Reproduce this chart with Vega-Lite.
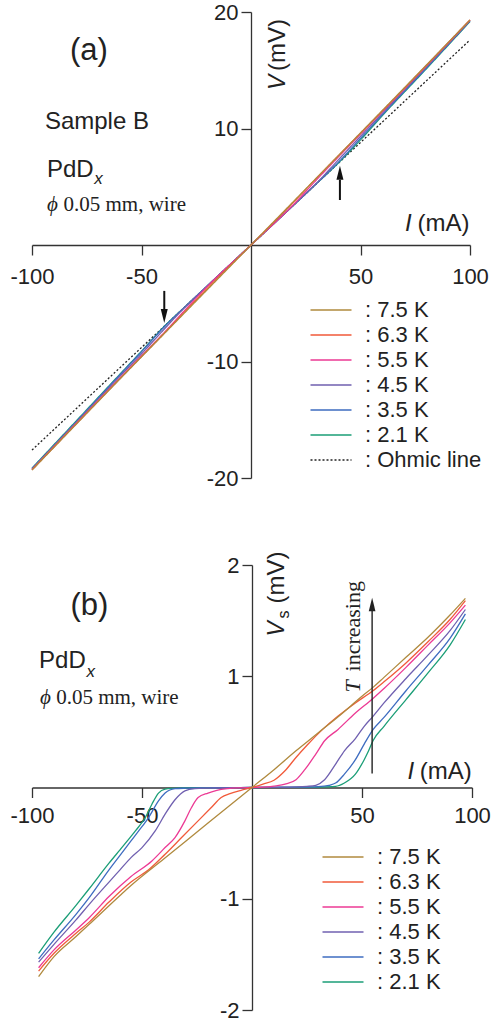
{
"$schema": "https://vega.github.io/schema/vega-lite/v6.json",
"background": "white",
"padding": {"left": 9, "top": 1, "right": 0, "bottom": 0},
"spacing": 62,
"config": {
  "view": {"stroke": null},
  "font": "Liberation Sans",
  "axis": {"grid": false, "title": null, "domainColor": "#333", "tickColor": "#333", "domainWidth": 1.3, "tickWidth": 1.3, "tickSize": 10, "labelFontSize": 22, "labelFont": "Liberation Sans", "labelColor": "#222", "labelOverlap": false, "labelFlush": false},
  "text": {"color": "#222"}
},
"resolve": {"scale": {"x": "independent", "y": "independent", "color": "independent", "strokeDash": "independent"}, "legend": {"color": "independent", "strokeDash": "independent"}},
"datasets": {
  "ivA": [
    {"T":"Ohmic line","I":-100,"V":-17.6},{"T":"Ohmic line","I":100,"V":17.6},
    {"T":"2.1 K","I":-100,"V":-19.15},{"T":"2.1 K","I":-80,"V":-15.14},{"T":"2.1 K","I":-60,"V":-11.12},{"T":"2.1 K","I":-50,"V":-9.12},{"T":"2.1 K","I":-40,"V":-7.06},{"T":"2.1 K","I":-30,"V":-5.28},{"T":"2.1 K","I":-20,"V":-3.52},{"T":"2.1 K","I":0,"V":0},{"T":"2.1 K","I":20,"V":3.52},{"T":"2.1 K","I":30,"V":5.284},{"T":"2.1 K","I":40,"V":7.06},{"T":"2.1 K","I":50,"V":9.02},{"T":"2.1 K","I":60,"V":11.11},{"T":"2.1 K","I":80,"V":15.11},{"T":"2.1 K","I":100,"V":19.18},
    {"T":"3.5 K","I":-100,"V":-19.2},{"T":"3.5 K","I":-80,"V":-15.22},{"T":"3.5 K","I":-60,"V":-11.17},{"T":"3.5 K","I":-50,"V":-9.16},{"T":"3.5 K","I":-40,"V":-7.1},{"T":"3.5 K","I":-30,"V":-5.29},{"T":"3.5 K","I":-20,"V":-3.52},{"T":"3.5 K","I":0,"V":0},{"T":"3.5 K","I":20,"V":3.52},{"T":"3.5 K","I":30,"V":5.29},{"T":"3.5 K","I":40,"V":7.12},{"T":"3.5 K","I":50,"V":9.15},{"T":"3.5 K","I":60,"V":11.19},{"T":"3.5 K","I":80,"V":15.18},{"T":"3.5 K","I":100,"V":19.23},
    {"T":"4.5 K","I":-100,"V":-19.23},{"T":"4.5 K","I":-80,"V":-15.27},{"T":"4.5 K","I":-60,"V":-11.3},{"T":"4.5 K","I":-50,"V":-9.34},{"T":"4.5 K","I":-40,"V":-7.3},{"T":"4.5 K","I":-30,"V":-5.31},{"T":"4.5 K","I":-20,"V":-3.525},{"T":"4.5 K","I":0,"V":0},{"T":"4.5 K","I":20,"V":3.525},{"T":"4.5 K","I":30,"V":5.32},{"T":"4.5 K","I":40,"V":7.33},{"T":"4.5 K","I":50,"V":9.33},{"T":"4.5 K","I":60,"V":11.32},{"T":"4.5 K","I":80,"V":15.27},{"T":"4.5 K","I":100,"V":19.27},
    {"T":"5.5 K","I":-100,"V":-19.28},{"T":"5.5 K","I":-80,"V":-15.36},{"T":"5.5 K","I":-60,"V":-11.45},{"T":"5.5 K","I":-50,"V":-9.51},{"T":"5.5 K","I":-40,"V":-7.59},{"T":"5.5 K","I":-30,"V":-5.56},{"T":"5.5 K","I":-20,"V":-3.57},{"T":"5.5 K","I":0,"V":0},{"T":"5.5 K","I":20,"V":3.59},{"T":"5.5 K","I":30,"V":5.61},{"T":"5.5 K","I":40,"V":7.58},{"T":"5.5 K","I":50,"V":9.52},{"T":"5.5 K","I":60,"V":11.45},{"T":"5.5 K","I":80,"V":15.36},{"T":"5.5 K","I":100,"V":19.3},
    {"T":"6.3 K","I":-100,"V":-19.3},{"T":"6.3 K","I":-80,"V":-15.39},{"T":"6.3 K","I":-60,"V":-11.5},{"T":"6.3 K","I":-50,"V":-9.58},{"T":"6.3 K","I":-40,"V":-7.65},{"T":"6.3 K","I":-30,"V":-5.69},{"T":"6.3 K","I":-20,"V":-3.73},{"T":"6.3 K","I":0,"V":0},{"T":"6.3 K","I":20,"V":3.79},{"T":"6.3 K","I":30,"V":5.76},{"T":"6.3 K","I":40,"V":7.69},{"T":"6.3 K","I":50,"V":9.6},{"T":"6.3 K","I":60,"V":11.51},{"T":"6.3 K","I":80,"V":15.39},{"T":"6.3 K","I":100,"V":19.32},
    {"T":"7.5 K","I":-100,"V":-19.32},{"T":"7.5 K","I":-80,"V":-15.42},{"T":"7.5 K","I":-60,"V":-11.53},{"T":"7.5 K","I":-50,"V":-9.6},{"T":"7.5 K","I":-40,"V":-7.68},{"T":"7.5 K","I":-30,"V":-5.76},{"T":"7.5 K","I":-20,"V":-3.84},{"T":"7.5 K","I":0,"V":0},{"T":"7.5 K","I":20,"V":3.85},{"T":"7.5 K","I":30,"V":5.77},{"T":"7.5 K","I":40,"V":7.69},{"T":"7.5 K","I":50,"V":9.62},{"T":"7.5 K","I":60,"V":11.55},{"T":"7.5 K","I":80,"V":15.43},{"T":"7.5 K","I":100,"V":19.32}
  ],
  "vsB": [
    {"T":"2.1 K","I":-97,"Vs":-1.49},{"T":"2.1 K","I":-90,"Vs":-1.30},{"T":"2.1 K","I":-80,"Vs":-1.06},{"T":"2.1 K","I":-74,"Vs":-0.91},{"T":"2.1 K","I":-65,"Vs":-0.68},{"T":"2.1 K","I":-60,"Vs":-0.56},{"T":"2.1 K","I":-55,"Vs":-0.44},{"T":"2.1 K","I":-53,"Vs":-0.39},{"T":"2.1 K","I":-48.5,"Vs":-0.27},{"T":"2.1 K","I":-45.5,"Vs":-0.15},{"T":"2.1 K","I":-42.5,"Vs":-0.05},{"T":"2.1 K","I":-39.5,"Vs":-0.015},{"T":"2.1 K","I":-36,"Vs":-0.008},{"T":"2.1 K","I":-30,"Vs":-0.004},{"T":"2.1 K","I":-20,"Vs":-0.002},{"T":"2.1 K","I":-10,"Vs":-0.001},{"T":"2.1 K","I":0,"Vs":0},{"T":"2.1 K","I":10,"Vs":0.001},{"T":"2.1 K","I":20,"Vs":0.002},{"T":"2.1 K","I":30,"Vs":0.004},{"T":"2.1 K","I":38,"Vs":0.01},{"T":"2.1 K","I":42,"Vs":0.04},{"T":"2.1 K","I":47,"Vs":0.12},{"T":"2.1 K","I":51,"Vs":0.25},{"T":"2.1 K","I":53,"Vs":0.33},{"T":"2.1 K","I":55,"Vs":0.42},{"T":"2.1 K","I":60,"Vs":0.55},{"T":"2.1 K","I":70,"Vs":0.79},{"T":"2.1 K","I":80,"Vs":1.03},{"T":"2.1 K","I":90,"Vs":1.28},{"T":"2.1 K","I":97,"Vs":1.51},
    {"T":"3.5 K","I":-97,"Vs":-1.54},{"T":"3.5 K","I":-90,"Vs":-1.37},{"T":"3.5 K","I":-80,"Vs":-1.14},{"T":"3.5 K","I":-74,"Vs":-0.99},{"T":"3.5 K","I":-65,"Vs":-0.74},{"T":"3.5 K","I":-60,"Vs":-0.61},{"T":"3.5 K","I":-55,"Vs":-0.48},{"T":"3.5 K","I":-51.5,"Vs":-0.39},{"T":"3.5 K","I":-47,"Vs":-0.27},{"T":"3.5 K","I":-42.5,"Vs":-0.12},{"T":"3.5 K","I":-39.5,"Vs":-0.05},{"T":"3.5 K","I":-35,"Vs":-0.01},{"T":"3.5 K","I":-30,"Vs":-0.006},{"T":"3.5 K","I":-20,"Vs":-0.003},{"T":"3.5 K","I":-10,"Vs":-0.001},{"T":"3.5 K","I":0,"Vs":0},{"T":"3.5 K","I":10,"Vs":0.001},{"T":"3.5 K","I":20,"Vs":0.003},{"T":"3.5 K","I":30,"Vs":0.008},{"T":"3.5 K","I":35,"Vs":0.02},{"T":"3.5 K","I":38,"Vs":0.04},{"T":"3.5 K","I":42,"Vs":0.12},{"T":"3.5 K","I":47,"Vs":0.25},{"T":"3.5 K","I":51,"Vs":0.39},{"T":"3.5 K","I":55,"Vs":0.52},{"T":"3.5 K","I":60,"Vs":0.63},{"T":"3.5 K","I":70,"Vs":0.87},{"T":"3.5 K","I":80,"Vs":1.10},{"T":"3.5 K","I":90,"Vs":1.34},{"T":"3.5 K","I":97,"Vs":1.56},
    {"T":"4.5 K","I":-97,"Vs":-1.57},{"T":"4.5 K","I":-90,"Vs":-1.41},{"T":"4.5 K","I":-80,"Vs":-1.19},{"T":"4.5 K","I":-74,"Vs":-1.05},{"T":"4.5 K","I":-65,"Vs":-0.85},{"T":"4.5 K","I":-60,"Vs":-0.74},{"T":"4.5 K","I":-55,"Vs":-0.63},{"T":"4.5 K","I":-50,"Vs":-0.54},{"T":"4.5 K","I":-44,"Vs":-0.39},{"T":"4.5 K","I":-39.5,"Vs":-0.24},{"T":"4.5 K","I":-35,"Vs":-0.11},{"T":"4.5 K","I":-30.5,"Vs":-0.03},{"T":"4.5 K","I":-26,"Vs":-0.01},{"T":"4.5 K","I":-20,"Vs":-0.005},{"T":"4.5 K","I":-10,"Vs":-0.002},{"T":"4.5 K","I":0,"Vs":0},{"T":"4.5 K","I":10,"Vs":0.002},{"T":"4.5 K","I":20,"Vs":0.005},{"T":"4.5 K","I":25,"Vs":0.01},{"T":"4.5 K","I":29,"Vs":0.02},{"T":"4.5 K","I":33,"Vs":0.07},{"T":"4.5 K","I":38,"Vs":0.21},{"T":"4.5 K","I":42,"Vs":0.33},{"T":"4.5 K","I":47,"Vs":0.44},{"T":"4.5 K","I":51,"Vs":0.55},{"T":"4.5 K","I":55,"Vs":0.64},{"T":"4.5 K","I":60,"Vs":0.76},{"T":"4.5 K","I":70,"Vs":0.98},{"T":"4.5 K","I":80,"Vs":1.19},{"T":"4.5 K","I":90,"Vs":1.41},{"T":"4.5 K","I":97,"Vs":1.60},
    {"T":"5.5 K","I":-97,"Vs":-1.62},{"T":"5.5 K","I":-90,"Vs":-1.46},{"T":"5.5 K","I":-80,"Vs":-1.28},{"T":"5.5 K","I":-74,"Vs":-1.17},{"T":"5.5 K","I":-65,"Vs":-0.98},{"T":"5.5 K","I":-55,"Vs":-0.80},{"T":"5.5 K","I":-45.5,"Vs":-0.66},{"T":"5.5 K","I":-39.5,"Vs":-0.54},{"T":"5.5 K","I":-35,"Vs":-0.45},{"T":"5.5 K","I":-30.5,"Vs":-0.30},{"T":"5.5 K","I":-27.5,"Vs":-0.18},{"T":"5.5 K","I":-24.5,"Vs":-0.09},{"T":"5.5 K","I":-20,"Vs":-0.05},{"T":"5.5 K","I":-16,"Vs":-0.025},{"T":"5.5 K","I":-11,"Vs":-0.01},{"T":"5.5 K","I":-5,"Vs":-0.003},{"T":"5.5 K","I":0,"Vs":0},{"T":"5.5 K","I":5,"Vs":0.003},{"T":"5.5 K","I":11,"Vs":0.015},{"T":"5.5 K","I":15,"Vs":0.03},{"T":"5.5 K","I":20,"Vs":0.07},{"T":"5.5 K","I":24,"Vs":0.16},{"T":"5.5 K","I":29,"Vs":0.30},{"T":"5.5 K","I":33,"Vs":0.42},{"T":"5.5 K","I":39,"Vs":0.52},{"T":"5.5 K","I":47,"Vs":0.67},{"T":"5.5 K","I":55,"Vs":0.80},{"T":"5.5 K","I":60,"Vs":0.89},{"T":"5.5 K","I":70,"Vs":1.08},{"T":"5.5 K","I":80,"Vs":1.28},{"T":"5.5 K","I":90,"Vs":1.48},{"T":"5.5 K","I":97,"Vs":1.64},
    {"T":"6.3 K","I":-97,"Vs":-1.65},{"T":"6.3 K","I":-90,"Vs":-1.49},{"T":"6.3 K","I":-80,"Vs":-1.31},{"T":"6.3 K","I":-74,"Vs":-1.21},{"T":"6.3 K","I":-65,"Vs":-1.03},{"T":"6.3 K","I":-55,"Vs":-0.85},{"T":"6.3 K","I":-47,"Vs":-0.74},{"T":"6.3 K","I":-39.5,"Vs":-0.60},{"T":"6.3 K","I":-32,"Vs":-0.45},{"T":"6.3 K","I":-24.5,"Vs":-0.30},{"T":"6.3 K","I":-18.5,"Vs":-0.18},{"T":"6.3 K","I":-14,"Vs":-0.09},{"T":"6.3 K","I":-10,"Vs":-0.055},{"T":"6.3 K","I":-5,"Vs":-0.025},{"T":"6.3 K","I":0,"Vs":0},{"T":"6.3 K","I":5,"Vs":0.03},{"T":"6.3 K","I":10,"Vs":0.065},{"T":"6.3 K","I":15,"Vs":0.15},{"T":"6.3 K","I":20,"Vs":0.27},{"T":"6.3 K","I":25,"Vs":0.38},{"T":"6.3 K","I":32,"Vs":0.52},{"T":"6.3 K","I":39,"Vs":0.64},{"T":"6.3 K","I":47,"Vs":0.76},{"T":"6.3 K","I":55,"Vs":0.87},{"T":"6.3 K","I":60,"Vs":0.95},{"T":"6.3 K","I":70,"Vs":1.12},{"T":"6.3 K","I":80,"Vs":1.31},{"T":"6.3 K","I":90,"Vs":1.51},{"T":"6.3 K","I":97,"Vs":1.68},
    {"T":"7.5 K","I":-97,"Vs":-1.70},{"T":"7.5 K","I":-90,"Vs":-1.52},{"T":"7.5 K","I":-80,"Vs":-1.34},{"T":"7.5 K","I":-74,"Vs":-1.23},{"T":"7.5 K","I":-60,"Vs":-0.97},{"T":"7.5 K","I":-55,"Vs":-0.88},{"T":"7.5 K","I":-40,"Vs":-0.64},{"T":"7.5 K","I":-20,"Vs":-0.32},{"T":"7.5 K","I":0,"Vs":0},{"T":"7.5 K","I":10,"Vs":0.16},{"T":"7.5 K","I":20,"Vs":0.33},{"T":"7.5 K","I":30,"Vs":0.49},{"T":"7.5 K","I":40,"Vs":0.65},{"T":"7.5 K","I":50,"Vs":0.82},{"T":"7.5 K","I":55,"Vs":0.9},{"T":"7.5 K","I":60,"Vs":0.99},{"T":"7.5 K","I":70,"Vs":1.17},{"T":"7.5 K","I":80,"Vs":1.35},{"T":"7.5 K","I":90,"Vs":1.55},{"T":"7.5 K","I":97,"Vs":1.70}
  ]
},
"vconcat": [
  {
    "width": 438, "height": 466,
    "layer": [
      {"data": {"name": "ivA"},
       "mark": {"type": "line", "strokeWidth": 1.3, "interpolate": "monotone"},
       "encoding": {
         "x": {"field": "I", "type": "quantitative", "scale": {"domain": [-100, 100], "nice": false, "zero": false},
               "axis": {"values": [-100, -50, 50, 100], "labelExpr": "'' + datum.value", "offset": -233, "labelPadding": 11}},
         "y": {"field": "V", "type": "quantitative", "scale": {"domain": [-20, 20], "nice": false},
               "axis": {"values": [-20, -10, 10, 20], "labelExpr": "'' + datum.value", "offset": -219, "labelPadding": 3}},
         "color": {"field": "T", "type": "nominal",
                   "scale": {"domain": ["7.5 K", "6.3 K", "5.5 K", "4.5 K", "3.5 K", "2.1 K", "Ohmic line"], "range": ["#b08a3e", "#f15a3a", "#ec3a94", "#7060b0", "#3e6cc0", "#1b9e77", "#222222"]},
                   "legend": {"orient": "none", "legendX": 278, "legendY": 287, "title": null, "labelFontSize": 22, "labelFont": "Liberation Sans", "labelColor": "#222", "labelExpr": "': ' + datum.label", "symbolType": "M-5.125,0L5.125,0", "symbolSize": 64, "symbolOffset": 10, "symbolStrokeWidth": 1.4, "labelOffset": 23, "rowPadding": 3, "padding": 0, "labelLimit": 0}},
         "strokeDash": {"field": "T", "type": "nominal",
                   "scale": {"domain": ["7.5 K", "6.3 K", "5.5 K", "4.5 K", "3.5 K", "2.1 K", "Ohmic line"], "range": [[1, 0], [1, 0], [1, 0], [1, 0], [1, 0], [1, 0], [2, 2]]},
                   "legend": {"orient": "none", "legendX": 278, "legendY": 287, "title": null, "labelFontSize": 22, "labelFont": "Liberation Sans", "labelColor": "#222", "labelExpr": "': ' + datum.label", "symbolType": "M-5.125,0L5.125,0", "symbolSize": 64, "symbolOffset": 10, "symbolStrokeWidth": 1.4, "labelOffset": 23, "rowPadding": 3, "padding": 0, "labelLimit": 0}}
       }},
      {"data": {"values": [{}]}, "mark": {"type": "rule", "color": "#111", "strokeWidth": 2}, "encoding": {"x": {"datum": 40.6}, "y": {"datum": 3.86}, "y2": {"datum": 5.6}}},
      {"data": {"values": [{}]}, "mark": {"type": "point", "shape": "M-0.5,1L0,-1L0.5,1Z", "size": 196, "filled": true, "color": "#111", "opacity": 1, "strokeWidth": 0}, "encoding": {"x": {"datum": 40.6}, "y": {"datum": 6.2}}},
      {"data": {"values": [{}]}, "mark": {"type": "rule", "color": "#111", "strokeWidth": 2}, "encoding": {"x": {"datum": -39.6}, "y": {"datum": -3.94}, "y2": {"datum": -5.58}}},
      {"data": {"values": [{}]}, "mark": {"type": "point", "shape": "M-0.5,-1L0,1L0.5,-1Z", "size": 196, "filled": true, "color": "#111", "opacity": 1, "strokeWidth": 0}, "encoding": {"x": {"datum": -39.6}, "y": {"datum": -6.1}}},
      {"data": {"values": [{}]}, "mark": {"type": "text", "text": "(a)", "fontSize": 31, "align": "center", "baseline": "alphabetic"}, "encoding": {"x": {"datum": -74}, "y": {"datum": 15.88}}},
      {"data": {"values": [{}]}, "mark": {"type": "text", "text": "Sample B", "fontSize": 24, "align": "left", "baseline": "alphabetic"}, "encoding": {"x": {"datum": -94.1}, "y": {"datum": 9.93}}},
      {"data": {"values": [{}]}, "mark": {"type": "text", "text": "PdD", "fontSize": 24, "align": "left", "baseline": "alphabetic"}, "encoding": {"x": {"datum": -93.2}, "y": {"datum": 5.81}}},
      {"data": {"values": [{}]}, "mark": {"type": "text", "text": "x", "fontSize": 17, "fontStyle": "italic", "align": "left", "baseline": "alphabetic"}, "encoding": {"x": {"datum": -71.6}, "y": {"datum": 5.21}}},
      {"data": {"values": [{}]}, "mark": {"type": "text", "text": "ϕ", "font": "Liberation Serif", "fontSize": 21, "fontStyle": "italic", "align": "left", "baseline": "alphabetic"}, "encoding": {"x": {"datum": -93.2}, "y": {"datum": 2.94}}},
      {"data": {"values": [{}]}, "mark": {"type": "text", "text": "0.05 mm, wire", "font": "Liberation Serif", "fontSize": 21, "align": "left", "baseline": "alphabetic"}, "encoding": {"x": {"datum": -85.6}, "y": {"datum": 2.94}}},
      {"data": {"values": [{}]}, "mark": {"type": "text", "text": "V", "fontSize": 23, "fontStyle": "italic", "angle": 270, "align": "left", "baseline": "alphabetic"}, "encoding": {"x": {"datum": 15.5}, "y": {"datum": 13.3}}},
      {"data": {"values": [{}]}, "mark": {"type": "text", "text": "(mV)", "fontSize": 24, "angle": 270, "align": "left", "baseline": "alphabetic"}, "encoding": {"x": {"datum": 15.5}, "y": {"datum": 14.94}}},
      {"data": {"values": [{}]}, "mark": {"type": "text", "text": "I", "fontSize": 24, "fontStyle": "italic", "align": "left", "baseline": "alphabetic"}, "encoding": {"x": {"datum": 70.3}, "y": {"datum": 1.23}}},
      {"data": {"values": [{}]}, "mark": {"type": "text", "text": "(mA)", "fontSize": 24, "align": "left", "baseline": "alphabetic"}, "encoding": {"x": {"datum": 76.0}, "y": {"datum": 1.23}}}
    ]
  },
  {
    "width": 440, "height": 445,
    "layer": [
      {"data": {"name": "vsB"},
       "mark": {"type": "line", "strokeWidth": 1.3, "interpolate": "monotone"},
       "encoding": {
         "x": {"field": "I", "type": "quantitative", "scale": {"domain": [-100, 100], "nice": false, "zero": false},
               "axis": {"values": [-100, -50, 50, 100], "labelExpr": "'' + datum.value", "offset": -222.5, "labelPadding": 8}},
         "y": {"field": "Vs", "type": "quantitative", "scale": {"domain": [-2, 2], "nice": false},
               "axis": {"values": [-2, -1, 1, 2], "labelExpr": "'' + datum.value", "offset": -220, "labelPadding": 3}},
         "color": {"field": "T", "type": "nominal",
                   "scale": {"domain": ["7.5 K", "6.3 K", "5.5 K", "4.5 K", "3.5 K", "2.1 K"], "range": ["#b08a3e", "#f15a3a", "#ec3a94", "#7060b0", "#3e6cc0", "#1b9e77"]},
                   "legend": {"orient": "none", "legendX": 290, "legendY": 281, "title": null, "labelFontSize": 22, "labelFont": "Liberation Sans", "labelColor": "#222", "labelExpr": "': ' + datum.label", "symbolType": "M-5.125,0L5.125,0", "symbolSize": 64, "symbolOffset": 10, "symbolStrokeWidth": 1.4, "labelOffset": 23, "rowPadding": 3, "padding": 0, "labelLimit": 0}}
       }},
      {"data": {"values": [{}]}, "mark": {"type": "rule", "color": "#222", "strokeWidth": 1.4}, "encoding": {"x": {"datum": 54.6}, "y": {"datum": 0.126}, "y2": {"datum": 1.59}}},
      {"data": {"values": [{}]}, "mark": {"type": "point", "shape": "M-0.5,1L0,-1L0.5,1Z", "size": 180, "filled": true, "color": "#222", "opacity": 1, "strokeWidth": 0}, "encoding": {"x": {"datum": 54.6}, "y": {"datum": 1.645}}},
      {"data": {"values": [{}]}, "mark": {"type": "text", "text": "(b)", "fontSize": 31, "align": "center", "baseline": "alphabetic"}, "encoding": {"x": {"datum": -73.9}, "y": {"datum": 1.555}}},
      {"data": {"values": [{}]}, "mark": {"type": "text", "text": "PdD", "fontSize": 24, "align": "left", "baseline": "alphabetic"}, "encoding": {"x": {"datum": -96.8}, "y": {"datum": 1.07}}},
      {"data": {"values": [{}]}, "mark": {"type": "text", "text": "x", "fontSize": 17, "fontStyle": "italic", "align": "left", "baseline": "alphabetic"}, "encoding": {"x": {"datum": -75.2}, "y": {"datum": 0.995}}},
      {"data": {"values": [{}]}, "mark": {"type": "text", "text": "ϕ", "font": "Liberation Serif", "fontSize": 21, "fontStyle": "italic", "align": "left", "baseline": "alphabetic"}, "encoding": {"x": {"datum": -96.4}, "y": {"datum": 0.755}}},
      {"data": {"values": [{}]}, "mark": {"type": "text", "text": "0.05 mm, wire", "font": "Liberation Serif", "fontSize": 21, "align": "left", "baseline": "alphabetic"}, "encoding": {"x": {"datum": -89.0}, "y": {"datum": 0.755}}},
      {"data": {"values": [{}]}, "mark": {"type": "text", "text": "V", "fontSize": 23, "fontStyle": "italic", "angle": 270, "align": "left", "baseline": "alphabetic"}, "encoding": {"x": {"datum": 14.6}, "y": {"datum": 1.357}}},
      {"data": {"values": [{}]}, "mark": {"type": "text", "text": "s", "fontSize": 16, "angle": 270, "align": "left", "baseline": "alphabetic"}, "encoding": {"x": {"datum": 16.6}, "y": {"datum": 1.52}}},
      {"data": {"values": [{}]}, "mark": {"type": "text", "text": "(mV)", "fontSize": 24, "angle": 270, "align": "left", "baseline": "alphabetic"}, "encoding": {"x": {"datum": 14.6}, "y": {"datum": 1.654}}},
      {"data": {"values": [{}]}, "mark": {"type": "text", "text": "T", "font": "Liberation Serif", "fontSize": 22, "fontStyle": "italic", "angle": 270, "align": "left", "baseline": "alphabetic"}, "encoding": {"x": {"datum": 49.1}, "y": {"datum": 0.854}}},
      {"data": {"values": [{}]}, "mark": {"type": "text", "text": "increasing", "font": "Liberation Serif", "fontSize": 22, "angle": 270, "align": "left", "baseline": "alphabetic"}, "encoding": {"x": {"datum": 49.1}, "y": {"datum": 1.043}}},
      {"data": {"values": [{}]}, "mark": {"type": "text", "text": "I", "fontSize": 24, "fontStyle": "italic", "align": "left", "baseline": "alphabetic"}, "encoding": {"x": {"datum": 70.7}, "y": {"datum": 0.072}}},
      {"data": {"values": [{}]}, "mark": {"type": "text", "text": "(mA)", "fontSize": 24, "align": "left", "baseline": "alphabetic"}, "encoding": {"x": {"datum": 76.3}, "y": {"datum": 0.072}}}
    ]
  }
]
}
